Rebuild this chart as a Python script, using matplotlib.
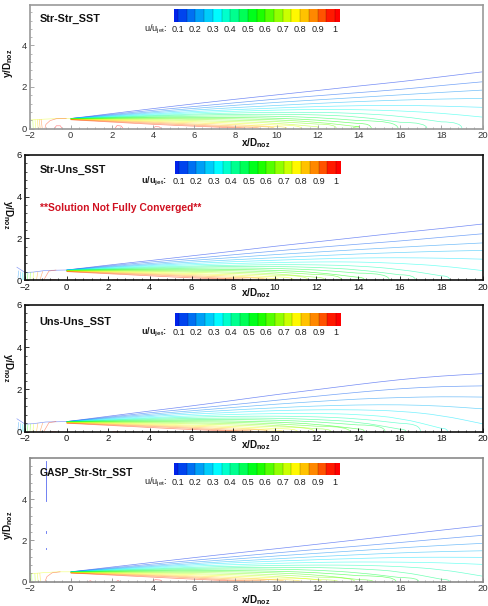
import matplotlib
matplotlib.use("Agg")
import matplotlib.pyplot as plt
from matplotlib.colors import LinearSegmentedColormap
from matplotlib.patches import PathPatch
from matplotlib.path import Path
from matplotlib.ticker import MultipleLocator
import numpy as np

plt.rcParams["font.family"] = ["Liberation Sans", "DejaVu Sans"]
plt.rcParams["mathtext.fontset"] = "custom"
plt.rcParams["mathtext.rm"] = "Liberation Sans"
plt.rcParams["mathtext.bf"] = "Liberation Sans:bold"

W, H = 488, 606

LEVELS = [0.1, 0.15, 0.2, 0.25, 0.3, 0.35, 0.4, 0.45, 0.5, 0.55,
          0.6, 0.65, 0.7, 0.75, 0.8, 0.85, 0.9, 0.95, 1.0]
BAR_TICKS = [0.1, 0.2, 0.3, 0.4, 0.5, 0.6, 0.7, 0.8, 0.9, 1]
BAR_LABELS = ["0.1", "0.2", "0.3", "0.4", "0.5", "0.6", "0.7", "0.8", "0.9", "1"]
X_STATIONS = [0, 2, 4, 6, 8, 10, 12, 14, 16, 18, 20]

# y/D at each x station, one row per level from 0.1 to 0.95
STR_STR_Y = [
    [.48, .72, .96, 1.19, 1.41, 1.62, 1.83, 2.05, 2.25, 2.49, 2.73],
    [.48, .68, .88, 1.06, 1.24, 1.42, 1.58, 1.73, 1.88, 2.07, 2.25],
    [.48, .65, .81, .97, 1.12, 1.26, 1.38, 1.50, 1.62, 1.74, 1.85],
    [.48, .62, .76, .89, 1.01, 1.11, 1.21, 1.30, 1.37, 1.42, 1.45],
    [.48, .60, .71, .82, .91, .99, 1.06, 1.10, 1.12, 1.08, 1.02],
    [.48, .58, .67, .76, .83, .89, .92, .91, .85, .74, .55],
    [.47, .56, .63, .70, .75, .78, .78, .73, .60, .32],
    [.47, .54, .60, .65, .68, .69, .66, .57, .30],
    [.47, .52, .56, .59, .61, .59, .53, .38],
    [.46, .50, .53, .54, .53, .50, .41, .24],
    [.46, .48, .49, .49, .47, .42, .31, .08],
    [.46, .46, .46, .44, .40, .34, .21],
    [.45, .44, .42, .38, .33, .26, .08],
    [.45, .42, .38, .33, .26, .17],
    [.44, .40, .34, .27, .19, .09],
    [.44, .37, .30, .21, .12],
    [.43, .34, .25, .16, .07],
    [.42, .31, .20, .11, .03],
]
STR_STR_END = [None, None, None, None, None, None, 19.0, 17.3, 15.9, 14.6,
               13.7, 12.9, 12.0, 11.2, 10.5, 9.9, 9.2, 8.5]

STR_UNS_Y = [
    [.48, .72, .93, 1.16, 1.38, 1.62, 1.83, 2.05, 2.27, 2.47, 2.69],
    [.48, .68, .86, 1.03, 1.21, 1.39, 1.56, 1.72, 1.87, 2.05, 2.22],
    [.48, .65, .79, .94, 1.08, 1.22, 1.34, 1.46, 1.57, 1.68, 1.78],
    [.48, .62, .74, .86, .97, 1.07, 1.16, 1.25, 1.32, 1.38, 1.42],
    [.48, .60, .70, .79, .88, .95, 1.01, 1.06, 1.07, 1.05, 1.00],
    [.47, .57, .66, .73, .79, .84, .87, .87, .80, .68, .45],
    [.47, .55, .62, .67, .71, .74, .73, .68, .52, .20],
    [.46, .53, .58, .62, .65, .65, .61, .50, .25],
    [.46, .51, .54, .57, .58, .56, .49, .33],
    [.45, .49, .51, .52, .51, .47, .37, .13],
    [.45, .47, .47, .47, .45, .39, .26],
    [.44, .45, .44, .42, .38, .31, .13],
    [.44, .43, .41, .37, .32, .23],
    [.43, .41, .37, .31, .25, .15],
    [.43, .39, .33, .26, .19, .07],
    [.42, .36, .29, .21, .12],
    [.41, .33, .25, .16, .06],
    [.40, .30, .20, .10, .03],
]
STR_UNS_END = [None, None, None, None, None, None, 18.4, 16.75, 15.5, 14.3,
               13.2, 12.4, 11.6, 10.9, 10.2, 9.6, 8.9, 8.3]

UNS_UNS_Y = [
    [.48, .73, .98, 1.22, 1.48, 1.75, 1.99, 2.24, 2.47, 2.64, 2.75],
    [.48, .69, .90, 1.09, 1.28, 1.48, 1.68, 1.87, 2.04, 2.14, 2.17],
    [.48, .66, .83, .99, 1.15, 1.30, 1.43, 1.55, 1.62, 1.66, 1.64],
    [.48, .63, .77, .91, 1.03, 1.13, 1.22, 1.27, 1.28, 1.22, 1.08],
    [.48, .60, .72, .83, .92, 1.00, 1.04, 1.04, .98, .78, .37],
    [.47, .57, .67, .75, .82, .86, .87, .82, .66, .16],
    [.47, .55, .63, .69, .73, .74, .71, .62, .40],
    [.47, .53, .59, .63, .65, .64, .58, .47, .12],
    [.46, .51, .55, .57, .58, .55, .47, .32],
    [.46, .49, .51, .52, .51, .46, .36, .13],
    [.45, .47, .48, .47, .45, .38, .26],
    [.45, .45, .44, .42, .38, .31, .14],
    [.44, .43, .41, .37, .32, .23],
    [.44, .41, .37, .31, .25, .15],
    [.43, .39, .33, .26, .19, .07],
    [.42, .36, .29, .21, .12],
    [.41, .33, .25, .16, .06],
    [.40, .30, .20, .10, .03],
]
UNS_UNS_END = [None, None, None, None, None, 18.3, 17.0, 16.3, 15.3, 14.3,
               13.6, 12.7, 11.9, 11.1, 10.4, 9.7, 9.0, 8.3]

GASP_Y = [
    [.48, .71, .94, 1.17, 1.39, 1.60, 1.82, 2.04, 2.27, 2.50, 2.72],
    [.48, .67, .86, 1.04, 1.22, 1.40, 1.57, 1.73, 1.90, 2.08, 2.25],
    [.48, .64, .80, .95, 1.10, 1.25, 1.38, 1.51, 1.64, 1.76, 1.86],
    [.48, .62, .75, .88, 1.00, 1.11, 1.22, 1.31, 1.40, 1.46, 1.50],
    [.48, .60, .71, .82, .92, 1.00, 1.07, 1.13, 1.18, 1.19, 1.18],
    [.47, .58, .67, .76, .83, .89, .94, .96, .95, .92, .84],
    [.47, .56, .63, .70, .75, .79, .81, .80, .74, .60, .27],
    [.47, .54, .60, .65, .68, .70, .69, .63, .50, .12],
    [.46, .52, .56, .60, .62, .61, .56, .44, .20],
    [.46, .50, .53, .55, .54, .51, .44, .29],
    [.46, .48, .50, .50, .48, .43, .33, .10],
    [.45, .46, .46, .45, .41, .34, .22],
    [.45, .44, .43, .39, .34, .26, .10],
    [.44, .42, .39, .34, .27, .18],
    [.44, .40, .35, .28, .20, .10],
    [.43, .38, .31, .23, .13],
    [.42, .35, .27, .18, .07],
    [.42, .32, .22, .12, .03],
]
GASP_END = [None, None, None, None, None, None, None, 18.4, 16.9, 15.8,
            14.7, 13.8, 13.0, 12.2, 11.2, 10.4, 9.6, 8.7]

# upstream contours: (level, x values, y values)
NOZZLE_STR = [
    (0.75, [-2.0, -1.3, -0.6, 0.0], [.41, .45, .48, .48]),
    (0.65, [-1.94, -1.95], [.0, .40]),
    (0.7, [-1.82, -1.84], [.0, .41]),
    (0.75, [-1.70, -1.73], [.0, .42]),
    (0.8, [-1.58, -1.62], [.0, .43]),
    (0.85, [-1.48, -1.53], [.0, .44]),
    (0.9, [-1.38, -1.44], [.0, .45]),
    (0.95, [-1.25, -1.2, -1.0, -0.7, -0.2], [.0, .2, .38, .47, .48]),
    (1.0, [-0.78, -0.7, -0.5, -0.42], [.0, .13, .13, .0]),
    (1.0, [2.15, 2.25, 2.45, 2.55], [.0, .14, .12, .0]),
    (1.0, [4.0, 4.1, 4.3, 4.4], [.0, .09, .08, .0]),
]
NOZZLE_UNS = [
    (0.1, [-2.4, -2.0, -1.6, -1.0, 0.0], [.62, .36, .38, .46, .48]),
    (0.2, [-2.34, -2.30], [.10, .45]),
    (0.25, [-2.24, -2.20], [.02, .40]),
    (0.3, [-2.14, -2.12], [.0, .36]),
    (0.35, [-2.06, -2.04], [.0, .35]),
    (0.45, [-1.98, -1.96], [.0, .35]),
    (0.55, [-1.88, -1.86], [.0, .36]),
    (0.65, [-1.76, -1.74], [.0, .37]),
    (0.75, [-1.62, -1.58], [.0, .38]),
    (0.85, [-1.45, -1.38], [.0, .40]),
    (0.9, [-1.28, -1.15], [.0, .42]),
    (0.95, [-1.10, -0.85, -0.5], [.0, .43, .48]),
    (1.0, [-0.8, -0.5], [.04, .04]),
    (1.0, [2.2, 2.5], [.04, .04]),
]
NOZZLE_GASP = [
    (0.75, [-2.0, -1.3, -0.6, 0.0], [.38, .44, .48, .48]),
    (0.65, [-1.88, -1.90], [.0, .38]),
    (0.7, [-1.72, -1.74], [.0, .40]),
    (0.75, [-1.58, -1.62], [.0, .41]),
    (0.8, [-1.46, -1.50], [.0, .42]),
    (0.95, [-1.25, -1.15, -0.9, -0.5], [.0, .25, .43, .48]),
    (1.0, [0.85, 0.95, 1.05], [.0, .05, .0]),
    (1.0, [2.2, 2.3, 2.4], [.0, .06, .0]),
    (1.0, [3.95, 4.1, 4.35, 4.45], [.0, .10, .08, .0]),
]

GASP_STREAK_X = -1.18
GASP_STREAK_Y = [(3.9, 5.85), (2.37, 2.45), (1.58, 1.64)]

CMAP_POS = [0.05, 0.33, 0.55, 0.77, 1.0]
CMAP_COLORS = ["#0000e8", "#00ffff", "#00ff00", "#ffff00", "#ff0000"]

# frame pixels are left, right, top, bottom
PANELS = [
    dict(title="Str-Str_SST", table=STR_STR_Y, ends=STR_STR_END, nozzle=NOZZLE_STR,
         frame=(29.5, 482.5, 5, 128.5), ytop=5.95, yticks=[0, 2, 4], color="#9a9a9a", tick="#333333",
         title_y=19, title_size=7.8, bar=(9, 21.5), bar_label_y=29, xlab_y=143, ylab=(8, 63, 90),
         bold_bar=False),
    dict(title="Str-Uns_SST", table=STR_UNS_Y, ends=STR_UNS_END, nozzle=NOZZLE_UNS,
         frame=(25, 483, 155, 280), ytop=6, yticks=[0, 2, 4, 6], color="#111111", tick="#111111",
         title_y=170, title_size=7.8, bar=(161.3, 174), bar_label_y=181.7, xlab_y=293, ylab=(8, 215, 270),
         bold_bar=True),
    dict(title="Uns-Uns_SST", table=UNS_UNS_Y, ends=UNS_UNS_END, nozzle=NOZZLE_UNS,
         frame=(25, 483, 305, 431.7), ytop=6, yticks=[0, 2, 4, 6], color="#111111", tick="#111111",
         title_y=321.7, title_size=7.8, bar=(312.7, 325.5), bar_label_y=332.7, xlab_y=445, ylab=(8, 368, 270),
         bold_bar=True),
    dict(title="GASP_Str-Str_SST", table=GASP_Y, ends=GASP_END, nozzle=NOZZLE_GASP,
         frame=(29.5, 482.5, 458, 581.7), ytop=6, yticks=[0, 2, 4], color="#8a8a8a", tick="#333333",
         title_y=472.7, title_size=7.5, bar=(462.7, 475), bar_label_y=482.7, xlab_y=600, ylab=(8, 525, 90),
         bold_bar=False),
]

cmap = LinearSegmentedColormap.from_list(
    "small_rainbow", [((p - 0.05) / 0.95, c) for p, c in zip(CMAP_POS, CMAP_COLORS)])


def level_color(level):
    return cmap((level - 0.05) / 0.95)


def fx(px):
    return px / W


def fy(py):
    return 1 - py / H


def contour_path(y, end):
    x = X_STATIONS[:len(y)]
    verts = [(x[0], y[0])]
    codes = [Path.MOVETO]
    for i in range(1, len(y) - 1):
        verts += [(x[i], y[i]), ((x[i] + x[i + 1]) / 2, (y[i] + y[i + 1]) / 2)]
        codes += [Path.CURVE3, Path.CURVE3]
    verts.append((x[-1], y[-1]))
    codes.append(Path.LINETO)
    if end is not None:
        verts += [(end, y[-1]), (end, 0)]
        codes += [Path.CURVE3, Path.CURVE3]
    return Path(verts, codes)


def draw_panel(fig, p):
    left, right, top, bottom = p["frame"]
    ax = fig.add_axes([fx(left), fy(bottom), fx(right - left), (bottom - top) / H])
    ax.set_xlim(-2, 20)
    ax.set_ylim(0, p["ytop"])
    for level, y, end in zip(LEVELS, p["table"], p["ends"]):
        ax.add_patch(PathPatch(contour_path(y, end), fc="none", ec=level_color(level), lw=0.5, alpha=0.55))
    for level, xs, ys in p["nozzle"]:
        ax.plot(xs, ys, color=level_color(level), lw=0.45, alpha=0.5, clip_on=False, zorder=1,
                solid_capstyle="butt")

    for s in ax.spines.values():
        s.set_color(p["color"])
        s.set_linewidth(1.2)
    ax.set_xticks(np.arange(-2, 21, 2))
    ax.set_yticks(p["yticks"])
    ax.xaxis.set_minor_locator(MultipleLocator(0.4))
    ax.yaxis.set_minor_locator(MultipleLocator(0.4))
    ax.tick_params(which="major", direction="in", length=3, width=0.6, color=p["color"],
                   labelsize=6.8, labelcolor=p["tick"], pad=2)
    ax.tick_params(which="minor", direction="in", length=1.6, width=0.5, color=p["color"])

    fig.text(fx(39.5), fy(p["title_y"]), p["title"], fontsize=p["title_size"], fontweight="bold",
             va="center", ha="left", color="#111111")
    fig.text(fx(256), fy(p["xlab_y"]), r"x/D$_{\mathbf{noz}}$", fontsize=7.2, fontweight="bold",
             ha="center", va="center", color="#111111")
    lx, ly, rot = p["ylab"]
    fig.text(fx(lx), fy(ly), r"y/D$_{\mathbf{noz}}$", fontsize=7.2, fontweight="bold",
             rotation=rot, ha="center", va="center", color="#111111")

    # colour bar
    shift = 1 if p["bold_bar"] else 0
    b0, b1 = p["bar"]
    bx0, bx1 = 173.5 + shift, 339.5 + shift
    cax = fig.add_axes([fx(bx0), fy(b1), fx(bx1 - bx0), (b1 - b0) / H])
    edges = [LEVELS[0] - 0.025] + LEVELS + [LEVELS[-1] + 0.025]
    mids = [(a + b) / 2 for a, b in zip(edges[:-1], edges[1:])]
    cax.pcolormesh(edges, [0, 1], [mids], cmap=cmap, vmin=0.05, vmax=1.0)
    cax.vlines(LEVELS, 0, 1, color="#000000", lw=0.3, alpha=0.45)
    cax.set_xlim(edges[0], edges[-1])
    cax.set_ylim(0, 1)
    cax.axis("off")
    span = (bx1 - bx0) / (edges[-1] - edges[0])
    for t, lab in zip(BAR_TICKS, BAR_LABELS):
        fig.text(fx(bx0 + (t - edges[0]) * span), fy(p["bar_label_y"]), lab, fontsize=6.6,
                 ha="center", va="center", color="#222222")
    weight = "bold" if p["bold_bar"] else "normal"
    sub = r"$_{\mathbf{jet}}$" if p["bold_bar"] else r"$_{\mathrm{jet}}$"
    fig.text(fx(167), fy(p["bar_label_y"]), "u/u" + sub + ":", fontsize=6.6, fontweight=weight,
             ha="right", va="center", color="#222222")
    return ax


fig = plt.figure(figsize=(W / 100, H / 100), dpi=100)
axes = [draw_panel(fig, p) for p in PANELS]

fig.text(fx(39.5), fy(208), "**Solution Not Fully Converged**", fontsize=7.4, fontweight="bold",
         color="#d01020", ha="left", va="center")

for y0, y1 in GASP_STREAK_Y:
    axes[3].plot([GASP_STREAK_X, GASP_STREAK_X], [y0, y1], color="#5a6cf0", lw=0.6)

fig.savefig("out.png", dpi=100)
